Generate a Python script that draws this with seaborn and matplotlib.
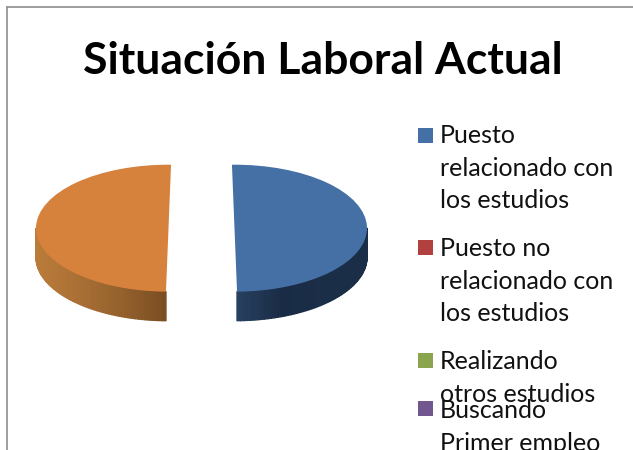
"""Situacion laboral: exploded pseudo-3D pie with a clipped legend."""

import matplotlib
matplotlib.use("Agg")
import matplotlib.pyplot as plt
import numpy as np
import seaborn as sns
from matplotlib.collections import PolyCollection
from matplotlib.lines import Line2D
from matplotlib.patches import Rectangle

title = "Situación Laboral Actual"
legend_labels = [
    "Puesto\nrelacionado con\nlos estudios",
    "Puesto no\nrelacionado con\nlos estudios",
    "Realizando\notros estudios",
    "Buscando\nPrimer empleo",
]
legend_colors = ["#4470a5", "#b0413e", "#8ba54f", "#72568f"]
slice_shares = [0.5, 0.5]
slice_colors = ["#4470a5", "#d6813c"]
side_shades = [["#27405f", "#1a2c45", "#1b2e47", "#1b2e47"], ["#bb7c3a", "#a96f35", "#93602c", "#7a4d23"]]

W, H = 633, 450
CX, CY = 201.5, 228.5      # pie centre, pixels
RX, RY = 132.5, 63.5       # top face radii, pixels
DEPTH = 29 / RY            # side height in pie units
EXPLODE = 33 / RX
start_angles = [91.1, 268.9]

sns.set_theme(style="white")
plt.rcParams["font.family"] = ["Lato", "DejaVu Sans"]

fig = plt.figure(figsize=(W / 100, H / 100), dpi=100, facecolor="white")
ax = fig.add_axes([0, 0, 1, 1])


def px(x, y):
    return x / W, 1 - y / H


for share, color, shades, start in zip(slice_shares, slice_colors, side_shades, start_angles):
    wedges, _ = ax.pie([share], colors=[color], startangle=start, counterclock=False,
                       normalize=False, explode=[EXPLODE], wedgeprops={"linewidth": 0, "zorder": 3})
    wedge = wedges[0]
    ox, oy = wedge.center
    # side wall: visible lower part of the rim, shaded left to right
    if wedge.theta1 < 0:
        angles = np.radians(np.linspace(wedge.theta1, 0, 60))
    else:
        angles = np.radians(np.linspace(180, wedge.theta2, 60))
    xs, ys = ox + np.cos(angles), oy + np.sin(angles)
    quads = [[(xs[i], ys[i]), (xs[i + 1], ys[i + 1]), (xs[i + 1], ys[i + 1] - DEPTH), (xs[i], ys[i] - DEPTH)]
             for i in range(len(xs) - 1)]
    cmap = sns.blend_palette(shades, n_colors=256, as_cmap=True)
    t = (xs[:-1] - xs.min()) / (xs.max() - xs.min())
    ax.add_collection(PolyCollection(quads, facecolors=cmap(t), edgecolors=cmap(t), linewidths=1.0, zorder=2))

ax.set_aspect("auto")
ax.set_xlim(-CX / RX, (W - CX) / RX)
ax.set_ylim((CY - H) / RY, CY / RY)
ax.axis("off")

# chart frame, cut off by the image on the right and at the bottom
fig.add_artist(Line2D([px(7, 0)[0], px(7, 0)[0]], [px(0, 450)[1], px(0, 7)[1]], color="#8c8c8c", lw=1.2))
fig.add_artist(Line2D([px(7, 0)[0], 1], [px(0, 7)[1], px(0, 7)[1]], color="#8c8c8c", lw=1.2))

tx, ty = px(323, 74)
fig.text(tx, ty, title, fontsize=32, fontweight="bold", color="black", ha="center", va="baseline")

swatch_tops = [128, 240, 353, 401]
first_baselines = [143, 256, 369, 418]
LINE_STEP = 32.6
for label, color, top, base in zip(legend_labels, legend_colors, swatch_tops, first_baselines):
    x0, y0 = px(418, top + 15)
    fig.add_artist(Rectangle((x0, y0), 15 / W, 15 / H, transform=fig.transFigure, facecolor=color, edgecolor="none"))
    for i, line in enumerate(label.split("\n")):
        lx, ly = px(440, base + i * LINE_STEP)
        fig.text(lx, ly, line, fontsize=18, color="#111111", ha="left", va="baseline")

fig.savefig("out.png", dpi=100)
